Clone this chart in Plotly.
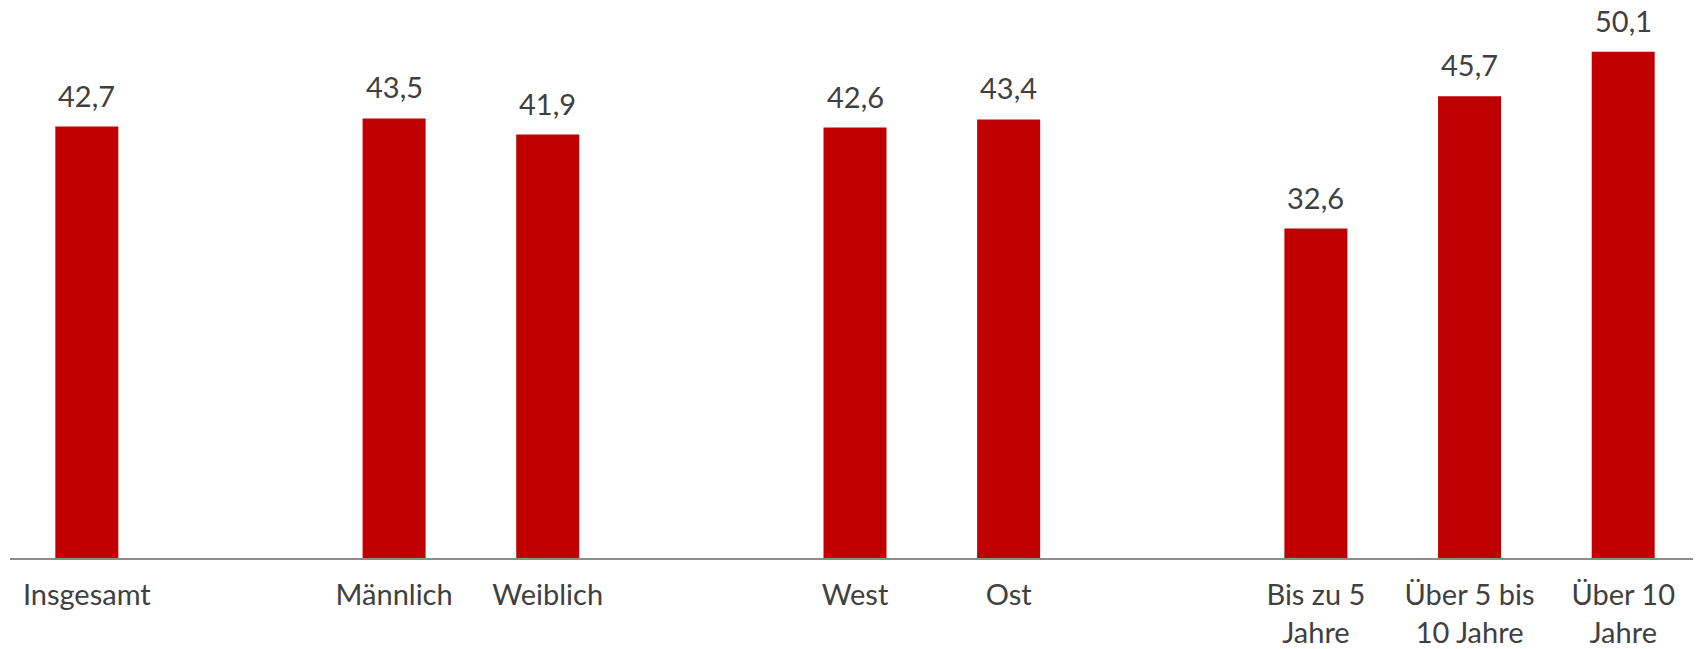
import plotly.graph_objects as go

groups = [
    ["Insgesamt"],
    ["Männlich", "Weiblich"],
    ["West", "Ost"],
    ["Bis zu 5<br>Jahre", "Über 5 bis<br>10 Jahre", "Über 10<br>Jahre"],
]
group_values = [
    [42.7],
    [43.5, 41.9],
    [42.6, 43.4],
    [32.6, 45.7, 50.1],
]

labels, values, xpos = [], [], []
pos = 0
for gi, (g, v) in enumerate(zip(groups, group_values)):
    for lab, val in zip(g, v):
        labels.append(lab)
        values.append(val)
        xpos.append(pos)
        pos += 1
    pos += 1  # gap slot between groups
last = xpos[-1]

BAR = "#C00000"
TXT = "#404040"
FONT = "Lato"

fig = go.Figure()
fig.add_trace(go.Bar(
    x=xpos, y=values, width=0.41,
    marker=dict(color=BAR, line=dict(width=0)),
    hoverinfo="skip",
))
for x, v in zip(xpos, values):
    fig.add_annotation(
        x=x, y=v, text=f"{v:.1f}".replace(".", ","),
        showarrow=False, yanchor="bottom", xanchor="center", yshift=12,
        font=dict(family=FONT, size=29, color=TXT),
    )

fig.update_layout(
    width=1693, height=641,
    margin=dict(l=2, r=1, t=0, b=88),
    paper_bgcolor="white", plot_bgcolor="white",
    showlegend=False,
    xaxis=dict(
        range=[-0.5, last + 0.5],
        tickmode="array", tickvals=xpos, ticktext=labels,
        tickfont=dict(family=FONT, size=29, color=TXT),
        showline=True, linecolor="#8C8C8C", linewidth=2,
        showgrid=False, zeroline=False,
        ticks="outside", ticklen=10, tickcolor="rgba(0,0,0,0)",
    ),
    yaxis=dict(
        range=[0, 54.43], visible=False, showgrid=False, zeroline=False,
    ),
)
fig.write_html("out.html")
